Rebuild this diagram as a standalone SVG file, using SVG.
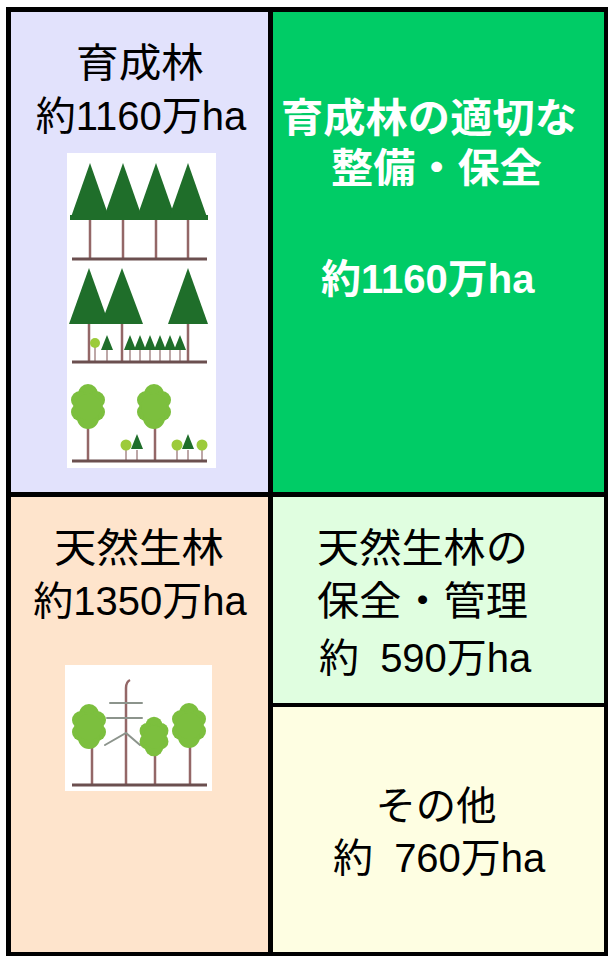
<svg xmlns="http://www.w3.org/2000/svg" width="608" height="956" viewBox="0 0 608 956">
  <style>
    .lbl { font-family: "Liberation Sans", "Noto Sans CJK JP", sans-serif; font-size: 40px; fill: #000; }
    .hl { font-family: "Liberation Sans", "Noto Sans CJK JP", sans-serif; font-size: 40px; font-weight: bold; fill: #fff; }
    .mid { text-anchor: middle; }
    .conifer { fill: #1f6e2a; }
    .broad { fill: #7cbf3e; }
    .sprout { fill: #9ccb3b; }
    .trunk { stroke: #946767; stroke-width: 2.5; fill: none; }
    .thin { stroke: #a88a8a; stroke-width: 1.5; fill: none; }
    .ground { stroke: #6b4f4f; stroke-width: 3; fill: none; }
    .branch { stroke: #8c948c; stroke-width: 2; fill: none; stroke-linecap: round; }
    .rule { fill: #000; }
  </style>
  <defs>
    <!-- bumpy crown of a broadleaf tree, about 34 x 45, centred on 0,0 -->
    <g id="crown">
      <circle cx="0" cy="-13" r="10"/>
      <circle cx="-8" cy="-7" r="9"/>
      <circle cx="8" cy="-7" r="9"/>
      <circle cx="-8" cy="5" r="9"/>
      <circle cx="8" cy="5" r="9"/>
      <circle cx="0" cy="11" r="11"/>
      <circle cx="0" cy="0" r="13"/>
    </g>
    <!-- small conifer seedling, apex at 0,0 -->
    <polygon id="seedling" points="0,0 -6,15 6,15"/>
  </defs>

  <rect width="608" height="956" fill="#fff"/>

  <!-- planted forest cell -->
  <g id="planted">
    <rect x="11" y="12" width="257" height="480" fill="#e2e2fc"/>
    <text class="lbl mid" x="140" y="77" textLength="128" lengthAdjust="spacingAndGlyphs">育成林</text>
    <text class="lbl mid" x="141" y="130">約1160万ha</text>
    <rect x="67" y="153" width="149" height="315" fill="#fff"/>
    <!-- row 1: even-aged conifers -->
    <g>
      <path class="trunk" d="M90 218V258M123 218V258M156 218V258M188 218V258"/>
      <polygon class="conifer" points="90,163 70,220 110,220"/>
      <polygon class="conifer" points="123,163 103,220 143,220"/>
      <polygon class="conifer" points="156,163 136,220 176,220"/>
      <polygon class="conifer" points="188,163 168,220 208,220"/>
      <rect class="conifer" x="70" y="215" width="138" height="5"/>
      <path class="ground" d="M72 259H207"/>
    </g>
    <!-- row 2: thinned conifers with undergrowth -->
    <g>
      <path class="trunk" d="M89 322V361M122 322V361M188 322V361"/>
      <path class="thin" d="M95 347V361M107 348V361M130 348V361M140 348V361M150 348V361M160 348V361M170 348V361M180 348V361"/>
      <polygon class="conifer" points="89,268 69,324 109,324"/>
      <polygon class="conifer" points="122,268 101,324 143,324"/>
      <polygon class="conifer" points="188,268 168,324 208,324"/>
      <circle class="sprout" cx="95" cy="343" r="5"/>
      <use href="#seedling" class="conifer" x="107" y="335"/>
      <use href="#seedling" class="conifer" x="130" y="335"/>
      <use href="#seedling" class="conifer" x="140" y="335"/>
      <use href="#seedling" class="conifer" x="150" y="335"/>
      <use href="#seedling" class="conifer" x="160" y="335"/>
      <use href="#seedling" class="conifer" x="170" y="335"/>
      <use href="#seedling" class="conifer" x="180" y="335"/>
      <path class="ground" d="M72 362H207"/>
    </g>
    <!-- row 3: mixed broadleaf stand -->
    <g>
      <path class="trunk" d="M88 425V460M155 425V460"/>
      <path class="thin" d="M126 448V460M137 450V460M177 448V460M188 450V460M202 448V460"/>
      <use href="#crown" class="broad" x="88" y="407"/>
      <use href="#crown" class="broad" x="154" y="407"/>
      <circle class="sprout" cx="126" cy="445" r="5.5"/>
      <use href="#seedling" class="conifer" x="137" y="434"/>
      <circle class="sprout" cx="177" cy="445" r="5.5"/>
      <use href="#seedling" class="conifer" x="188" y="434"/>
      <circle class="sprout" cx="202" cy="445" r="5.5"/>
      <path class="ground" d="M72 461H207"/>
    </g>
  </g>

  <!-- target for planted forest -->
  <g id="planted-target">
    <rect x="273" y="12" width="331" height="480" fill="#00cc66"/>
    <text class="hl" x="281" y="132" textLength="296" lengthAdjust="spacingAndGlyphs">育成林の適切な</text>
    <text class="hl" x="331" y="182" textLength="211" lengthAdjust="spacingAndGlyphs">整備・保全</text>
    <text class="hl" x="321" y="293">約1160万ha</text>
  </g>

  <!-- natural forest cell -->
  <g id="natural">
    <rect x="11" y="497" width="257" height="455" fill="#fee4cc"/>
    <text class="lbl mid" x="139" y="562" textLength="170" lengthAdjust="spacingAndGlyphs">天然生林</text>
    <text class="lbl mid" x="140" y="615">約1350万ha</text>
    <rect x="65" y="665" width="147" height="126" fill="#fff"/>
    <path class="trunk" d="M92 745V784M155 752V784M190 745V784"/>
    <!-- dead standing tree -->
    <path class="trunk" d="M126 784V688Q126 682 130 680"/>
    <path class="branch" d="M110 703H142M107 718H142M105 745L126 733L140 745"/>
    <use href="#crown" class="broad" x="89" y="727"/>
    <use href="#crown" class="broad" transform="translate(154 737) scale(0.85 0.88)"/>
    <use href="#crown" class="broad" x="189" y="726"/>
    <path class="ground" d="M72 785H207"/>
  </g>

  <!-- target for natural forest -->
  <g id="natural-target">
    <rect x="273" y="497" width="331" height="206" fill="#e0fee0"/>
    <text class="lbl" x="317" y="562" textLength="211" lengthAdjust="spacingAndGlyphs">天然生林の</text>
    <text class="lbl" x="317" y="615" textLength="211" lengthAdjust="spacingAndGlyphs">保全・管理</text>
    <text class="lbl" x="319" y="672">約 <tspan dx="10">590万ha</tspan></text>
  </g>

  <!-- remainder -->
  <g id="other">
    <rect x="273" y="707" width="331" height="245" fill="#fefee2"/>
    <text class="lbl mid" x="436" y="820" textLength="121" lengthAdjust="spacingAndGlyphs">その他</text>
    <text class="lbl" x="333" y="872">約 <tspan dx="10">760万ha</tspan></text>
  </g>

  <!-- table rules -->
  <g id="rules">
    <rect class="rule" x="6" y="7" width="602" height="5"/>
    <rect class="rule" x="6" y="7" width="5" height="949"/>
    <rect class="rule" x="604" y="7" width="4" height="949"/>
    <rect class="rule" x="6" y="952" width="602" height="4"/>
    <rect class="rule" x="268" y="7" width="5" height="949"/>
    <rect class="rule" x="6" y="492" width="602" height="5"/>
    <rect class="rule" x="268" y="703" width="340" height="4"/>
  </g>
</svg>
